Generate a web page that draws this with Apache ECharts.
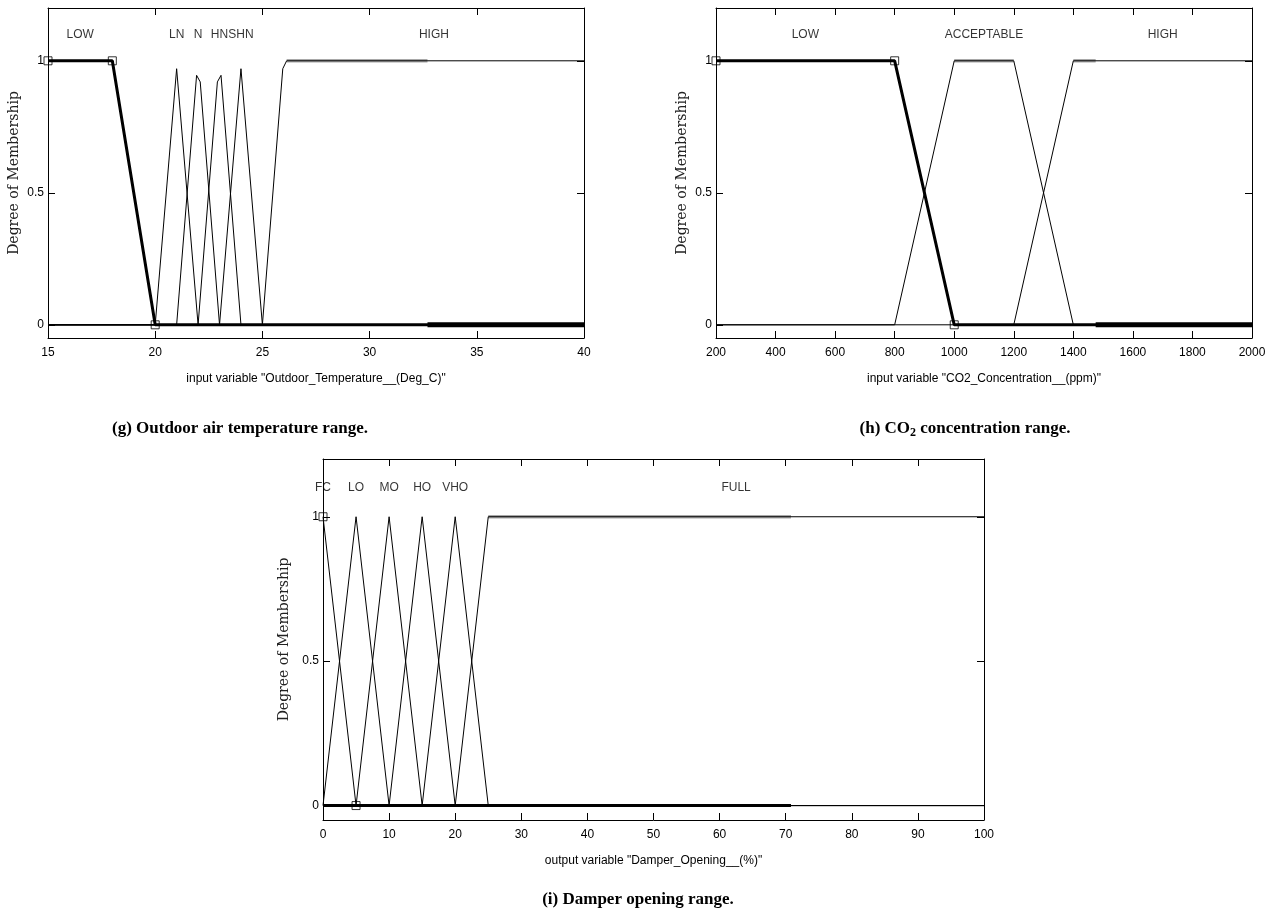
<!DOCTYPE html>
<html><head><meta charset="utf-8">
<script src="https://cdn.jsdelivr.net/npm/echarts@6/dist/echarts.min.js"></script>
<style>html,body{margin:0;padding:0;background:#fff}#c{width:1282px;height:921px}</style>
</head><body><div id="c"></div>
<script>
// ---------- (g) Outdoor temperature ----------
const tempRange = [15, 40];
const tempInterval = 5;
const tempLOW  = [[15,1],[18,1],[20,0],[40,0]];
const tempLN   = [[15,0],[20,0],[21,0.97],[22,0],[40,0]];
const tempN    = [[15,0],[21,0],[21.93,0.945],[22.1,0.92],[23,0],[40,0]];
const tempHN   = [[15,0],[22,0],[22.9,0.92],[23.07,0.945],[24,0],[40,0]];
const tempSHN  = [[15,0],[23,0],[24,0.97],[25,0],[40,0]];
const tempHIGH = [[15,0],[25,0],[25.95,0.97],[26.13,1],[40,1]];
const tempMarkers = [[15,1],[18,1],[20,0]];
const tempLabels = [[16.5,1.1,'LOW'],[21,1.1,'LN'],[22,1.1,'N'],[23,1.1,'HN'],[24,1.1,'SHN'],[33,1.1,'HIGH']];
const tempTopGray = [[26.13,1],[32.7,1]];
const tempBottomThick = [[32.7,0],[40,0]];
const tempAxisName = 'input variable "Outdoor_Temperature__(Deg_C)"';

// ---------- (h) CO2 concentration ----------
const co2Range = [200, 2000];
const co2Interval = 200;
const co2LOW  = [[200,1],[800,1],[1000,0],[2000,0]];
const co2ACC  = [[200,0],[800,0],[1000,1],[1200,1],[1400,0],[2000,0]];
const co2HIGH = [[200,0],[1200,0],[1400,1],[2000,1]];
const co2Markers = [[200,1],[800,1],[1000,0]];
const co2Labels = [[500,1.1,'LOW'],[1100,1.1,'ACCEPTABLE'],[1700,1.1,'HIGH']];
const co2TopGray = [[1000,1],[1200,1],null,[1400,1],[1475,1]];
const co2BottomThick = [[1475,0],[2000,0]];
const co2AxisName = 'input variable "CO2_Concentration__(ppm)"';

// ---------- (i) Damper opening ----------
const dampRange = [0, 100];
const dampInterval = 10;
const dampFC   = [[0,1],[5,0],[100,0]];
const dampLO   = [[0,0],[5,1],[10,0],[100,0]];
const dampMO   = [[0,0],[5,0],[10,1],[15,0],[100,0]];
const dampHO   = [[0,0],[10,0],[15,1],[20,0],[100,0]];
const dampVHO  = [[0,0],[15,0],[20,1],[25,0],[100,0]];
const dampFULL = [[0,0],[20,0],[25,1],[100,1]];
const dampMarkers = [[0,1],[5,0]];
const dampLabels = [[0,1.1,'FC'],[5,1.1,'LO'],[10,1.1,'MO'],[15,1.1,'HO'],[20,1.1,'VHO'],[62.5,1.1,'FULL']];
const dampTopGray = [[25,1],[70.8,1]];
const dampBottomThick = [[0,0],[70.8,0]];
const dampAxisName = 'output variable "Damper_Opening__(%)"';

const yTicks = [0, 0.5, 1];
const yRange = [-0.05, 1.2];
const yName = 'Degree of Membership';

const captions = [
  {x:240, y:429, parts:[['a','(g) Outdoor air temperature range.']]},
  {x:965, y:429, parts:[['a','(h) CO'],['s','2'],['a',' concentration range.']]},
  {x:638, y:900, parts:[['a','(i) Damper opening range.']]}
];

// ---------- build ----------
const SANS = "'Liberation Sans Narrow','Liberation Sans',Arial,sans-serif";
const grids = [
  {left:48, top:8, width:536, height:330},
  {left:716, top:8, width:536, height:330},
  {left:323, top:459, width:661, height:361}
];
const xCfg = [
  {range:tempRange, interval:tempInterval, name:tempAxisName},
  {range:co2Range, interval:co2Interval, name:co2AxisName},
  {range:dampRange, interval:dampInterval, name:dampAxisName}
];
const yGap = [27, 27, 30];

const xAxes = [], yAxes = [];
xCfg.forEach((c, i) => {
  const common = {type:'value', gridIndex:i, min:c.range[0], max:c.range[1], interval:c.interval,
    splitLine:{show:false}, axisLine:{show:true, onZero:false, lineStyle:{color:'#000', width:1}},
    axisTick:{show:true, inside:true, length:7, lineStyle:{color:'#000'}}};
  xAxes.push(Object.assign({}, common, {position:'bottom',
    axisLabel:{show:true, color:'#000', fontSize:12, fontFamily:SANS, margin:9, formatter:v => String(v)},
    name:c.name, nameLocation:'middle', nameGap:35,
    nameTextStyle:{color:'#000', fontSize:12, fontFamily:SANS}}));
  xAxes.push(Object.assign({}, common, {position:'top', axisLabel:{show:false}}));
  const yc = {type:'value', gridIndex:i, min:yRange[0], max:yRange[1],
    splitLine:{show:false}, axisLine:{show:true, onZero:false, lineStyle:{color:'#000', width:1}},
    axisTick:{show:true, inside:true, length:7, customValues:yTicks, lineStyle:{color:'#000'}}};
  yAxes.push(Object.assign({}, yc, {position:'left',
    axisLabel:{show:true, customValues:yTicks, color:'#000', fontSize:12, fontFamily:SANS, margin:4,
      formatter:v => String(v)},
    name:yName, nameLocation:'middle', nameGap:yGap[i],
    nameTextStyle:{color:'#222', fontSize:14, fontFamily:"'DejaVu Serif',serif"}}));
  yAxes.push(Object.assign({}, yc, {position:'right', axisLabel:{show:false}}));
});

const series = [];
function line(g, data, width, color, z) {
  series.push({type:'line', xAxisIndex:2*g, yAxisIndex:2*g, data:data, symbol:'none',
    connectNulls:false, lineStyle:{color:color||'#000', width:width||1}, z:z||3, silent:true, animation:false});
}
function markers(g, data, size) {
  series.push({type:'scatter', xAxisIndex:2*g, yAxisIndex:2*g, data:data, symbol:'rect', symbolSize:size||8,
    itemStyle:{color:'rgba(255,255,255,0)', borderColor:'#000', borderWidth:1}, z:6, silent:true, animation:false, clip:false});
}
function labels(g, data) {
  series.push({type:'scatter', xAxisIndex:2*g, yAxisIndex:2*g, data:data, symbolSize:0, z:7, silent:true, animation:false,
    label:{show:true, position:'inside', formatter:p => p.value[2], color:'#000', fontSize:12, fontFamily:SANS}});
}

// g
line(0, tempTopGray, 3.5, '#a8a8a8', 2);
line(0, tempLN); line(0, tempN); line(0, tempHN); line(0, tempSHN); line(0, tempHIGH);
line(0, tempLOW, 3, '#000', 4);
line(0, tempBottomThick, 5, '#000', 4);
markers(0, tempMarkers); labels(0, tempLabels);
// h
line(1, co2TopGray, 3.5, '#a8a8a8', 2);
line(1, co2ACC); line(1, co2HIGH);
line(1, co2LOW, 3, '#000', 4);
line(1, co2BottomThick, 5, '#000', 4);
markers(1, co2Markers); labels(1, co2Labels);
// i
line(2, dampTopGray, 3.5, '#a8a8a8', 2);
line(2, dampFC); line(2, dampLO); line(2, dampMO); line(2, dampHO); line(2, dampVHO); line(2, dampFULL);
line(2, dampBottomThick, 3, '#000', 4);
markers(2, dampMarkers); labels(2, dampLabels);

const SERIF = "'Liberation Serif','Times New Roman',serif";
const graphic = captions.map(c => ({
  type:'text', x:c.x, y:c.y, z:10,
  style:{
    text: c.parts.map(p => '{' + p[0] + '|' + p[1] + '}').join(''),
    textAlign:'center', textVerticalAlign:'middle', align:'center', verticalAlign:'middle',
    rich:{
      a:{fontFamily:SERIF, fontWeight:'bold', fontSize:17, fill:'#000', color:'#000', lineHeight:20},
      s:{fontFamily:SERIF, fontWeight:'bold', fontSize:12, fill:'#000', color:'#000', lineHeight:20, padding:[8,0,0,0]}
    }
  }
}));

const chart = echarts.init(document.getElementById('c'), null, {renderer:'canvas'});
chart.setOption({
  animation:false, backgroundColor:'#fff',
  grid:grids, xAxis:xAxes, yAxis:yAxes, series:series, graphic:graphic
});
</script></body></html>
